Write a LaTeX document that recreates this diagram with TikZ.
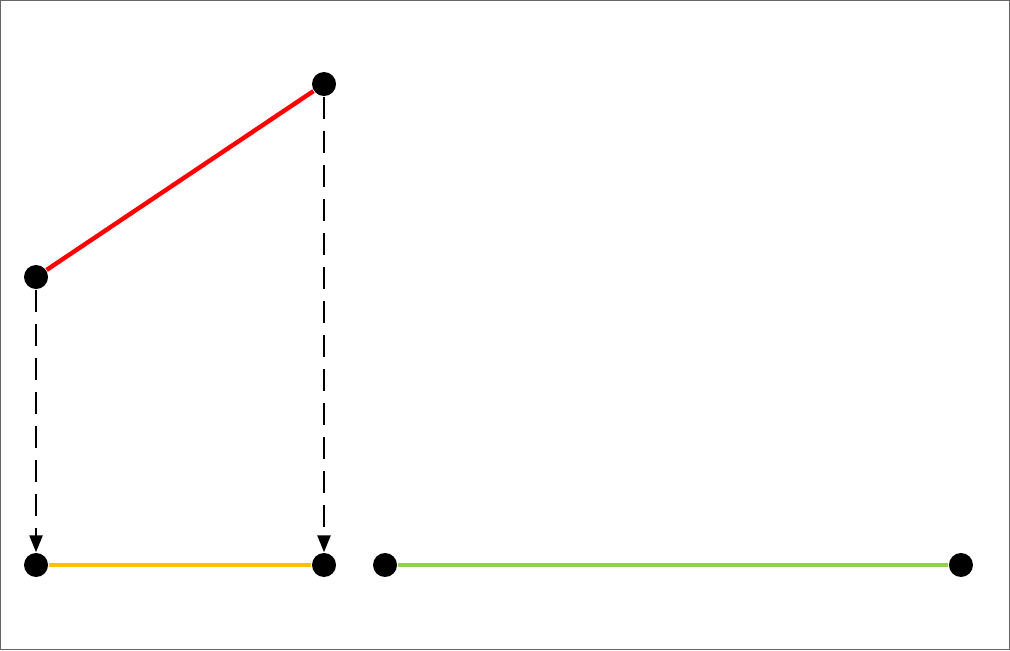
\documentclass[tikz,border=0pt]{standalone}
\usepackage{tikz}
\usetikzlibrary{arrows.meta}
\usepackage{xcolor}
\definecolor{segred}{RGB}{255,0,0}
\definecolor{segorange}{RGB}{255,192,0}
\definecolor{seggreen}{RGB}{146,208,80}

\begin{document}
\begin{tikzpicture}[x=0.01cm,y=-0.01cm]
\def\rad{12}
\tikzset{pt dot/.style={
	circle,
	fill=black,
	inner sep=0pt,
	minimum size=2*\rad*0.01cm
}}
\tikzset{seg line/.style={line width=1.25pt},
	proj arrow/.style={line width=0.7pt,dash pattern=on 0.22cm off 0.12cm,
		-{Triangle[length=0.17cm,width=0.13cm]}}}
\draw[gray!80!black,line width=0.3pt] (0.5,0.5) rectangle (1009.5,649.5);
\useasboundingbox (0,0) rectangle (1010,650);
\node[pt dot] (a) at (36,277) {};
\node[pt dot] (b) at (324,84) {};
\node[pt dot] (c) at (36,565) {};
\node[pt dot] (d) at (324,565) {};
\node[pt dot] (e) at (385,565) {};
\node[pt dot] (f) at (961,565) {};
\draw[seg line,segred] (a) -- (b);
\draw[seg line,segorange] (c) -- (d);
\draw[seg line,seggreen] (e) -- (f);
\foreach \from/\to in {a/c,b/d}
{
	\draw[proj arrow] (\from) -- (\to);
}
\end{tikzpicture}
\end{document}
